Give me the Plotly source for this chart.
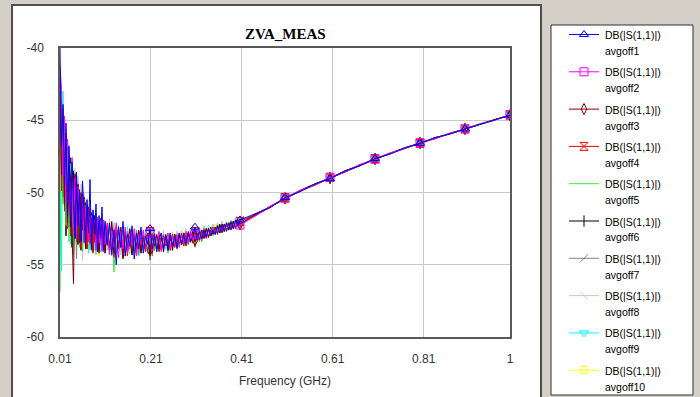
import plotly.graph_objects as go

# ---------------- data ----------------
freq_ghz = [
    # 0.01 .. 0.109
    0.0100, 0.0133, 0.0166, 0.0199, 0.0232, 0.0265, 0.0298, 0.0331, 0.0364, 0.0397,
    0.0430, 0.0463, 0.0496, 0.0529, 0.0562, 0.0595, 0.0628, 0.0661, 0.0694, 0.0727,
    0.0760, 0.0793, 0.0826, 0.0859, 0.0892, 0.0925, 0.0958, 0.0991, 0.1024, 0.1057,
    0.1090,
    # 0.109 .. 0.406
    0.11395, 0.1189, 0.12385, 0.1288, 0.13375, 0.1387, 0.14365, 0.1486, 0.15355, 0.1585,
    0.16345, 0.1684, 0.17335, 0.1783, 0.18325, 0.1882, 0.19315, 0.1981, 0.20305, 0.2080,
    0.21295, 0.2179, 0.22285, 0.2278, 0.23275, 0.2377, 0.24265, 0.2476, 0.25255, 0.2575,
    0.26245, 0.2674, 0.27235, 0.2773, 0.28225, 0.2872, 0.29215, 0.2971, 0.30205, 0.3070,
    0.31195, 0.3169, 0.32185, 0.3268, 0.33175, 0.3367, 0.34165, 0.3466, 0.35155, 0.3565,
    0.36145, 0.3664, 0.37135, 0.3763, 0.38125, 0.3862, 0.39115, 0.3961, 0.40105, 0.4060,
    # 0.406 .. 1.0
    0.4390, 0.4720, 0.5050, 0.5380, 0.5710, 0.6040, 0.6370, 0.6700, 0.7030, 0.7360,
    0.7690, 0.8020, 0.8350, 0.8680, 0.9010, 0.9340, 0.9670, 1.0000,
]

marker_freqs = [0.2080, 0.3070, 0.4060, 0.5050, 0.6040, 0.7030, 0.8020, 0.9010, 1.0000]

avgoff1 = [
    -40.0, -46.8, -43.9, -49.5, -45.2, -51.6, -46.8, -52.4, -47.9, -50.2,
    -53.1, -48.6, -52.3, -49.9, -53.4, -49.2, -51.0, -53.6, -50.5, -52.8,
    -49.1, -53.9, -51.2, -52.9, -50.8, -54.1, -51.6, -53.2, -51.0, -54.0,
    -52.0,
    -53.6, -52.1, -54.3, -52.6, -55.0, -52.4, -53.8, -52.0, -54.4, -52.9,
    -53.7, -52.3, -54.6, -52.8, -53.9, -52.4, -54.2, -53.0, -53.6, -52.5,
    -53.9, -52.9, -54.1, -53.2, -52.8, -53.9, -53.0, -54.0, -52.9, -53.7,
    -53.1, -53.8, -52.8, -53.6, -53.0, -53.5, -52.7, -53.4, -53.1, -52.4,
    -53.3, -52.7, -53.2, -52.6, -53.1, -52.5, -53.0, -52.6, -52.9, -52.3,
    -52.8, -52.2, -52.7, -52.1, -52.6, -52.0, -52.5, -51.9, -52.3, -51.9,
    -51.5, -51.05, -50.35, -49.95, -49.4, -49.05, -48.5, -48.15, -47.65, -47.35,
    -46.9, -46.6, -46.2, -45.95, -45.6, -45.3, -44.95, -44.65,
]
avgoff2 = [
    -41.3, -42.8, -48.9, -44.7, -50.6, -46.3, -48.0, -52.2, -47.6, -52.7,
    -49.0, -53.3, -49.6, -51.8, -53.0, -50.2, -53.5, -50.9, -52.4, -53.4,
    -51.1, -53.8, -51.5, -52.6, -54.0, -51.7, -53.5, -52.0, -54.1, -51.9,
    -53.6,
    -52.2, -54.3, -52.6, -53.8, -52.1, -54.5, -52.7, -53.9, -52.4, -54.1,
    -52.8, -53.7, -52.5, -54.4, -52.9, -53.6, -52.6, -54.0, -53.1, -52.8,
    -54.0, -53.0, -53.8, -52.7, -54.1, -53.1, -53.6, -52.8, -53.9, -53.0,
    -53.6, -52.9, -53.8, -53.0, -53.4, -52.7, -53.6, -52.9, -53.3, -52.9,
    -53.4, -52.6, -53.2, -52.5, -53.2, -52.6, -53.0, -52.4, -52.9, -52.5,
    -52.8, -52.3, -52.7, -52.2, -52.6, -52.1, -52.5, -52.0, -52.4, -52.25,
    -51.65, -50.95, -50.4, -49.85, -49.5, -48.95, -48.6, -48.05, -47.7, -47.25,
    -46.95, -46.55, -46.3, -45.9, -45.6, -45.25, -45.0, -44.6,
]
avgoff3 = [
    -43.5, -48.8, -45.0, -50.9, -46.4, -52.1, -47.9, -49.0, -52.8, -56.3,
    -48.7, -53.0, -49.4, -53.5, -50.0, -52.6, -50.3, -53.9, -50.9, -53.1,
    -51.3, -54.0, -51.5, -53.4, -51.8, -52.9, -54.2, -51.9, -53.6, -52.2,
    -54.0,
    -52.3, -53.8, -52.0, -54.2, -52.6, -53.9, -52.4, -54.6, -52.7, -53.8,
    -52.5, -54.3, -52.9, -53.7, -52.6, -54.1, -53.0, -53.8, -52.8, -54.0,
    -53.0, -53.7, -52.9, -54.1, -53.1, -53.8, -52.9, -54.0, -53.2, -53.6,
    -52.9, -53.9, -53.0, -53.5, -52.8, -53.7, -52.9, -53.4, -52.7, -53.3,
    -52.8, -53.3, -52.6, -53.2, -52.5, -53.1, -52.6, -52.9, -52.4, -52.9,
    -52.3, -52.8, -52.2, -52.7, -52.1, -52.6, -52.0, -52.5, -51.9, -52.2,
    -51.55, -51.0, -50.4, -49.9, -49.45, -49.0, -48.55, -48.1, -47.7, -47.3,
    -46.95, -46.55, -46.25, -45.9, -45.6, -45.3, -44.95, -44.65,
]
avgoff4 = [
    -41.8, -49.9, -44.2, -51.3, -45.9, -52.5, -47.3, -53.0, -48.2, -52.7,
    -48.9, -53.4, -49.5, -50.2, -53.8, -50.6, -53.0, -51.2, -53.9, -51.0,
    -53.5, -51.7, -54.2, -51.9, -53.3, -52.2, -54.1, -51.8, -53.7, -52.4,
    -53.9,
    -52.1, -54.0, -52.4, -54.5, -52.3, -53.7, -52.7, -54.2, -52.9, -54.4,
    -52.6, -53.8, -53.0, -54.3, -52.7, -53.9, -53.1, -54.1, -52.9, -52.7,
    -54.2, -53.2, -53.8, -52.9, -54.0, -53.0, -53.7, -53.2, -54.0, -52.9,
    -53.8, -53.0, -53.6, -52.8, -53.7, -52.9, -53.4, -52.7, -53.5, -52.7,
    -53.3, -52.6, -53.2, -52.7, -53.0, -52.5, -53.0, -52.4, -52.8, -52.3,
    -52.8, -52.2, -52.6, -52.3, -52.5, -52.1, -52.4, -52.0, -52.3, -52.0,
    -51.6, -51.05, -50.35, -49.9, -49.45, -48.95, -48.55, -48.1, -47.65, -47.3,
    -46.9, -46.6, -46.25, -45.95, -45.6, -45.25, -44.95, -44.65,
]
avgoff5 = [
    -56.9, -43.6, -50.8, -45.5, -52.3, -47.0, -53.4, -48.0, -50.5, -54.3,
    -49.2, -53.0, -50.0, -53.8, -50.4, -54.1, -50.9, -52.6, -53.6, -51.2,
    -54.0, -51.6, -53.2, -51.9, -54.3, -52.1, -53.5, -52.3, -54.0, -52.0,
    -53.7,
    -52.5, -54.2, -52.2, -55.5, -52.6, -53.9, -52.4, -54.3, -52.8, -53.6,
    -52.5, -54.0, -52.9, -54.4, -52.7, -53.8, -53.0, -54.1, -52.8, -53.7,
    -52.9, -54.0, -53.1, -53.6, -52.8, -53.9, -53.1, -54.2, -52.9, -53.6,
    -53.0, -53.8, -52.8, -53.6, -53.0, -53.4, -52.8, -53.5, -52.9, -53.2,
    -52.7, -53.4, -52.6, -53.1, -52.7, -53.0, -52.5, -53.0, -52.4, -52.8,
    -52.4, -52.7, -52.3, -52.6, -52.2, -52.5, -52.1, -52.4, -52.0, -52.1,
    -51.6, -51.0, -50.4, -49.9, -49.5, -49.0, -48.55, -48.1, -47.7, -47.3,
    -46.95, -46.55, -46.25, -45.9, -45.6, -45.3, -44.95, -44.65,
]
avgoff6 = [
    -45.5, -44.2, -50.3, -46.5, -53.0, -46.9, -52.4, -47.6, -53.8, -48.5,
    -53.2, -49.2, -53.6, -49.8, -54.0, -50.1, -53.4, -50.7, -53.9, -51.0,
    -53.6, -51.4, -54.1, -51.6, -53.8, -51.9, -54.0, -52.2, -53.7, -52.1,
    -54.2,
    -52.3, -54.0, -52.5, -54.4, -52.4, -53.9, -52.6, -54.5, -52.8, -54.1,
    -52.7, -54.3, -52.9, -53.9, -52.8, -54.2, -53.0, -54.0, -52.9, -54.3,
    -52.9, -54.0, -53.0, -53.9, -52.9, -54.1, -53.0, -53.8, -52.8, -54.0,
    -52.9, -53.7, -52.9, -53.6, -52.8, -53.5, -52.8, -53.4, -52.7, -53.4,
    -52.7, -53.3, -52.6, -53.1, -52.5, -53.1, -52.4, -52.9, -52.4, -52.8,
    -52.2, -52.7, -52.2, -52.6, -52.1, -52.4, -52.0, -52.4, -51.9, -52.2,
    -51.5, -51.0, -50.4, -49.85, -49.4, -49.0, -48.5, -48.1, -47.65, -47.3,
    -46.9, -46.6, -46.2, -45.95, -45.6, -45.3, -44.95, -44.65,
]
avgoff7 = [
    -44.0, -47.9, -44.6, -50.5, -47.0, -51.5, -48.0, -52.6, -48.8, -53.0,
    -49.5, -54.6, -50.1, -52.8, -50.6, -53.3, -51.0, -53.8, -51.3, -53.4,
    -51.6, -53.9, -51.9, -53.5, -52.0, -54.0, -52.3, -53.6, -52.2, -54.1,
    -52.5,
    -53.7, -52.3, -54.0, -52.5, -54.2, -52.3, -53.8, -52.6, -54.4, -52.7,
    -53.9, -52.8, -54.1, -52.6, -54.3, -53.0, -53.8, -52.9, -54.2, -53.0,
    -54.4, -52.8, -53.9, -53.1, -54.0, -52.9, -53.7, -53.2, -54.0, -52.9,
    -53.8, -53.0, -53.6, -52.9, -53.7, -52.8, -53.5, -52.9, -53.4, -52.8,
    -53.3, -52.7, -53.4, -52.6, -53.1, -52.5, -53.0, -52.5, -52.9, -52.4,
    -52.8, -52.3, -52.7, -52.2, -52.6, -52.1, -52.5, -52.0, -52.3, -51.9,
    -51.6, -50.95, -50.4, -49.9, -49.45, -48.95, -48.55, -48.1, -47.7, -47.3,
    -46.9, -46.55, -46.25, -45.9, -45.6, -45.3, -44.95, -44.65,
]
avgoff8 = [
    -42.5, -46.6, -45.4, -49.0, -45.8, -50.9, -46.7, -51.8, -47.5, -52.5,
    -48.3, -53.0, -48.9, -53.4, -49.4, -54.7, -50.0, -52.9, -50.4, -53.3,
    -50.9, -53.8, -51.2, -53.5, -51.5, -54.0, -51.8, -53.6, -52.0, -54.1,
    -51.9,
    -54.0, -51.8, -54.2, -52.1, -53.9, -52.3, -54.3, -52.4, -53.8, -52.6,
    -54.1, -52.5, -54.5, -52.7, -53.9, -52.8, -54.0, -52.6, -53.9, -52.6,
    -53.8, -52.7, -54.1, -52.8, -53.8, -52.6, -54.0, -52.8, -53.8, -52.7,
    -53.6, -52.7, -53.7, -52.6, -53.5, -52.5, -53.6, -52.6, -53.4, -52.5,
    -53.4, -52.4, -53.2, -52.4, -53.1, -52.3, -53.0, -52.2, -52.9, -52.1,
    -52.8, -52.0, -52.7, -52.0, -52.6, -51.9, -52.4, -51.9, -52.3, -51.9,
    -51.55, -51.0, -50.4, -49.9, -49.45, -49.0, -48.55, -48.1, -47.7, -47.3,
    -46.95, -46.55, -46.25, -45.9, -45.6, -45.3, -44.95, -44.65,
]
avgoff9 = [
    -41.5, -55.4, -43.0, -49.8, -45.6, -52.2, -46.8, -53.6, -47.8, -53.8,
    -48.6, -53.3, -49.4, -53.7, -50.0, -54.0, -50.5, -53.5, -51.0, -54.2,
    -51.3, -53.7, -51.6, -54.0, -51.8, -53.6, -52.0, -54.1, -52.2, -53.8,
    -52.3,
    -54.0, -52.2, -54.4, -52.1, -54.1, -52.5, -54.3, -52.6, -54.0, -52.4,
    -54.2, -52.8, -53.9, -52.7, -54.4, -52.9, -54.0, -52.8, -54.2, -52.8,
    -54.2, -52.9, -53.9, -52.7, -54.0, -52.8, -53.9, -52.9, -53.8, -52.8,
    -53.7, -52.7, -53.8, -52.8, -53.6, -52.6, -53.5, -52.7, -53.4, -52.6,
    -53.3, -52.4, -53.2, -52.3, -53.1, -52.3, -52.9, -52.2, -52.8, -52.1,
    -52.7, -52.0, -52.6, -52.0, -52.5, -51.9, -52.4, -51.8, -52.3, -52.0,
    -51.6, -51.0, -50.35, -49.9, -49.45, -49.0, -48.55, -48.1, -47.65, -47.3,
    -46.95, -46.55, -46.25, -45.9, -45.6, -45.3, -44.95, -44.65,
]
avgoff10 = [
    -46.5, -44.6, -48.5, -46.2, -51.6, -47.6, -52.2, -48.4, -52.7, -49.2,
    -52.5, -49.9, -53.0, -50.3, -52.9, -49.5, -53.4, -50.9, -53.6, -51.3,
    -53.3, -51.5, -53.9, -51.7, -53.4, -52.0, -54.4, -52.1, -53.6, -52.3,
    -53.7,
    -52.4, -54.0, -52.5, -54.2, -52.7, -53.9, -52.6, -54.1, -52.9, -53.8,
    -52.8, -54.0, -53.0, -53.9, -52.8, -53.7, -52.9, -54.0, -52.8, -53.8,
    -52.8, -54.0, -53.0, -53.9, -52.8, -53.7, -52.9, -54.0, -52.8, -53.8,
    -52.9, -53.6, -52.8, -53.7, -52.7, -53.5, -52.8, -53.4, -52.6, -53.3,
    -52.6, -53.2, -52.5, -53.1, -52.4, -53.0, -52.4, -52.9, -52.2, -52.8,
    -52.2, -52.6, -52.1, -52.6, -52.0, -52.5, -52.0, -52.4, -51.9, -52.1,
    -51.6, -51.0, -50.4, -49.9, -49.45, -49.0, -48.55, -48.1, -47.7, -47.3,
    -46.9, -46.6, -46.25, -45.9, -45.6, -45.3, -44.95, -44.65,
]

measurement = "DB(|S(1,1)|)"
series_names = ["avgoff1", "avgoff2", "avgoff3", "avgoff4", "avgoff5",
                "avgoff6", "avgoff7", "avgoff8", "avgoff9", "avgoff10"]
series_values = [avgoff1, avgoff2, avgoff3, avgoff4, avgoff5,
                 avgoff6, avgoff7, avgoff8, avgoff9, avgoff10]

x_tick_vals = [0.01, 0.21, 0.41, 0.61, 0.81, 1.0]
x_tick_text = ["0.01", "0.21", "0.41", "0.61", "0.81", "1"]
y_tick_vals = [-60, -55, -50, -45, -40]
y_tick_text = ["-60", "-55", "-50", "-45", "-40"]

# ---------------- styles ----------------
colors = ["#0000ff", "#ff00ff", "#800000", "#ff0000", "#33ee33",
          "#000000", "#808080", "#c8c8c8", "#00ffff", "#ffff00"]
symbols = ["triangle-up-open", "square-open", "diamond-tall-open", "hourglass-open", None,
           "line-ns-open", "line-ne-open", "line-nw-open", "triangle-down-open", "circle-open"]

fig = go.Figure()

# each series: line then its markers; last series first so avgoff1 ends on top
for i in reversed(range(10)):
    fig.add_trace(go.Scatter(
        x=freq_ghz, y=series_values[i], mode="lines",
        line=dict(color=colors[i], width=1),
        legendgroup=f"g{i}", showlegend=False, hoverinfo="skip"))
    if symbols[i] is not None:
        mx = [f for f in freq_ghz if f in marker_freqs]
        my = [series_values[i][freq_ghz.index(f)] for f in mx]
        fig.add_trace(go.Scatter(
            x=mx, y=my, mode="markers",
            marker=dict(symbol=symbols[i], size=8, color=colors[i],
                        line=dict(color=colors[i], width=1)),
            legendgroup=f"g{i}", showlegend=False, hoverinfo="skip"))

# legend symbols (text is placed as annotations below)
for i in range(10):
    mode = "lines" if symbols[i] is None else "lines+markers"
    mk = dict(size=8, color=colors[i], line=dict(color=colors[i], width=1))
    if symbols[i] is not None:
        mk["symbol"] = symbols[i]
    fig.add_trace(go.Scatter(
        x=[None], y=[None], mode=mode,
        line=dict(color=colors[i], width=1), marker=mk,
        name=" ",
        legendgroup=f"g{i}", legendrank=i + 1, showlegend=True))

L, R, T, B = 60, 190, 48, 60
W, H = 700, 397
pw, ph = W - L - R, H - T - B


def px(xp):
    return (xp - L) / pw


def py(yp):
    return (H - B - yp) / ph


shapes = [
    dict(type="rect", xref="paper", yref="paper", layer="below",
         x0=px(12), x1=px(541), y0=py(410), y1=py(5),
         fillcolor="white", line=dict(color="#505050", width=2)),
    dict(type="rect", xref="paper", yref="paper", layer="below",
         x0=px(551), x1=px(693), y0=py(395), y1=py(25),
         fillcolor="white", line=dict(color="#303030", width=1)),
]

legend_font = dict(family="Arial, Liberation Sans", size=10.5, color="black")
entry_step = 37.3
annotations = [dict(text="<b>ZVA_MEAS</b>", xref="paper", yref="paper",
                    x=0.5, y=py(34), xanchor="center", yanchor="middle",
                    showarrow=False,
                    font=dict(family="Liberation Serif, Times New Roman", size=15, color="black"))]
for i, nm in enumerate(series_names):
    y1 = 35 + entry_step * i
    annotations.append(dict(text=measurement, xref="paper", yref="paper",
                            x=px(603), y=py(y1), xanchor="left", yanchor="middle",
                            showarrow=False, font=legend_font))
    annotations.append(dict(text=nm, xref="paper", yref="paper",
                            x=px(603), y=py(y1 + 16), xanchor="left", yanchor="middle",
                            showarrow=False, font=legend_font))

fig.update_layout(
    width=W, height=H,
    margin=dict(l=L, r=R, t=T, b=B),
    paper_bgcolor="#d4d0c8",
    plot_bgcolor="white",
    shapes=shapes,
    annotations=annotations,
    showlegend=True,
    legend=dict(x=px(564), y=py(20), xanchor="left", yanchor="top",
                bgcolor="rgba(0,0,0,0)", borderwidth=0, maxheight=600,
                font=legend_font,
                tracegroupgap=entry_step - 19, traceorder="grouped"),
    xaxis=dict(range=[0.01, 1.0], tickvals=x_tick_vals, ticktext=x_tick_text,
               showgrid=True, gridcolor="#c8c8c8", gridwidth=1,
               showline=True, mirror=True, linecolor="#5a5a5a", linewidth=1.5,
               zeroline=False, ticks="", ticklabelstandoff=10,
               tickfont=dict(family="Arial, Liberation Sans", size=12, color="#333333"),
               title=dict(text="Frequency (GHz)", standoff=11,
                          font=dict(family="Arial, Liberation Sans", size=12, color="#333333"))),
    yaxis=dict(range=[-60, -40], tickvals=y_tick_vals, ticktext=y_tick_text,
               showgrid=True, gridcolor="#c8c8c8", gridwidth=1,
               showline=True, mirror=True, linecolor="#5a5a5a", linewidth=1.5,
               zeroline=False, ticks="", ticklabelstandoff=12,
               tickfont=dict(family="Arial, Liberation Sans", size=12, color="#333333")),
)

fig.write_html("out.html", config={"displayModeBar": False},
               post_script="document.body.style.margin='0px';")
